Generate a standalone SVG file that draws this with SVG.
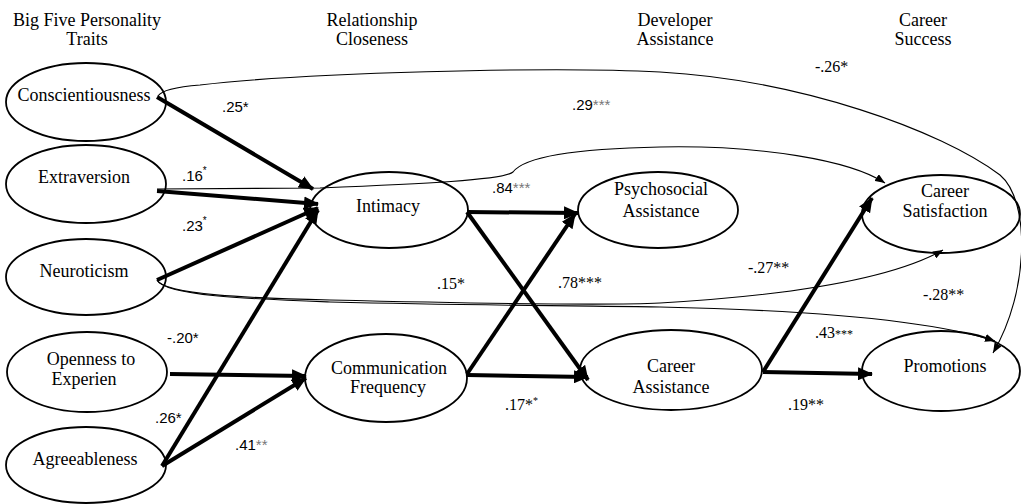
<svg xmlns="http://www.w3.org/2000/svg" width="1021" height="504" viewBox="0 0 1021 504">
<style>
.node ellipse{fill:#fff;stroke:#000;stroke-width:1.8}
.nt{font-family:"Liberation Serif","Times New Roman",serif;font-size:18px;fill:#000;text-anchor:middle}
.hd{font-family:"Liberation Serif","Times New Roman",serif;font-size:18px;fill:#000;text-anchor:middle}
.thick{stroke:#000;stroke-width:4;fill:none;marker-end:url(#ah)}
.thin{stroke:#000;stroke-width:1.1;fill:none;marker-end:url(#sh)}
.ls{font-family:"Liberation Sans",Arial,sans-serif;font-size:15px;fill:#000}
.lr{font-family:"Liberation Serif","Times New Roman",serif;font-size:16px;fill:#000}
.g{fill:#777}
.sup{font-size:10px}
</style>
<defs>
<marker id="ah" markerWidth="15" markerHeight="13" refX="14" refY="6.5" orient="auto" markerUnits="userSpaceOnUse"><path d="M0,0 L15,6.5 L0,13 z" fill="#000"/></marker>
<marker id="sh" markerWidth="10" markerHeight="8" refX="10" refY="4" orient="auto" markerUnits="userSpaceOnUse"><path d="M0,0 L10,4 L0,8 z" fill="#000"/></marker>
</defs>
<rect width="1021" height="504" fill="#fff"/>
<g id="headers">
<text class="hd" x="87" y="26">Big Five Personality</text>
<text class="hd" x="87" y="45">Traits</text>
<text class="hd" x="372" y="26">Relationship</text>
<text class="hd" x="372" y="45">Closeness</text>
<text class="hd" x="675" y="26">Developer</text>
<text class="hd" x="675" y="45">Assistance</text>
<text class="hd" x="923" y="26">Career</text>
<text class="hd" x="923" y="45">Success</text>
</g>
<g id="n-conscientiousness" class="node"><ellipse cx="86" cy="102" rx="80" ry="39"/><text class="nt" x="84" y="101">Conscientiousness</text></g>
<g id="n-extraversion" class="node"><ellipse cx="86" cy="184" rx="80" ry="39"/><text class="nt" x="84" y="183">Extraversion</text></g>
<g id="n-neuroticism" class="node"><ellipse cx="86" cy="277" rx="80" ry="38"/><text class="nt" x="84" y="277">Neuroticism</text></g>
<g id="n-openness" class="node"><ellipse cx="87" cy="372" rx="80" ry="40"/><text class="nt" x="91" y="365">Openness to</text><text class="nt" x="84" y="385">Experien</text></g>
<g id="n-agreeableness" class="node"><ellipse cx="86" cy="465" rx="80" ry="38"/><text class="nt" x="85" y="465">Agreeableness</text></g>
<g id="n-intimacy" class="node"><ellipse cx="389" cy="210" rx="79" ry="38"/><text class="nt" x="388" y="212">Intimacy</text></g>
<g id="n-commfreq" class="node"><ellipse cx="386" cy="378" rx="81" ry="44"/><text class="nt" x="389" y="374">Communication</text><text class="nt" x="388" y="393">Frequency</text></g>
<g id="n-psychosocial" class="node"><ellipse cx="658" cy="210" rx="80" ry="38"/><text class="nt" x="661" y="195">Psychosocial</text><text class="nt" x="661" y="217">Assistance</text></g>
<g id="n-careerassist" class="node"><ellipse cx="671" cy="370" rx="91" ry="40"/><text class="nt" x="671" y="372">Career</text><text class="nt" x="671" y="393">Assistance</text></g>
<g id="n-careersat" class="node"><ellipse cx="941" cy="214" rx="79" ry="39"/><text class="nt" x="945" y="197">Career</text><text class="nt" x="945" y="217">Satisfaction</text></g>
<g id="n-promotions" class="node"><ellipse cx="941" cy="371" rx="79" ry="40"/><text class="nt" x="945" y="372">Promotions</text></g>
<g id="connectors">
<path class="thin" d="M158,96 Q163,88 200,85 C300,73 550,66 660,72 C800,80 940,130 1000,175 C1030,200 1030,290 993,353"/>
<path class="thin" d="M157,189 L320,188 C420,184 505,180 513,172 C522,160 560,149 660,147 C760,145 850,160 885,183"/>
<path class="thin" d="M157,280 C165,295 250,298 330,300 C500,304 620,305 660,303 C780,296 890,280 943,250"/>
<path class="thin" d="M157,280 C165,296 250,299 330,302 C500,306 620,306 660,307 C800,310 930,320 995,341"/>
<line class="thick" x1="157" y1="97" x2="313" y2="189"/>
<line class="thick" x1="157" y1="191" x2="318" y2="204"/>
<line class="thick" x1="157" y1="280" x2="318" y2="208"/>
<line class="thick" x1="162" y1="466" x2="318" y2="210"/>
<line class="thick" x1="170" y1="374" x2="306" y2="376"/>
<line class="thick" x1="162" y1="466" x2="306" y2="378"/>
<line class="thick" x1="467" y1="212" x2="578" y2="213"/>
<line class="thick" x1="467" y1="212" x2="588" y2="380"/>
<line class="thick" x1="467" y1="374" x2="575" y2="214"/>
<line class="thick" x1="467" y1="375" x2="588" y2="377"/>
<line class="thick" x1="763" y1="372" x2="872" y2="198"/>
<line class="thick" x1="763" y1="372" x2="872" y2="374"/>
</g>
<g id="labels">
<text class="ls" x="222" y="112">.25*</text>
<text class="ls" x="182" y="181">.16<tspan class="sup" dy="-7">*</tspan></text>
<text class="ls" x="182" y="231">.23<tspan class="sup" dy="-7">*</tspan></text>
<text class="ls" x="167" y="343">-.20*</text>
<text class="ls" x="155" y="423">.26*</text>
<text class="ls" x="235" y="450">.41<tspan class="g">**</tspan></text>
<text class="ls" x="572" y="110">.29<tspan class="g">***</tspan></text>
<text class="ls" x="492" y="193">.84<tspan class="g">***</tspan></text>
<text class="lr" x="815" y="72">-.26*</text>
<text class="lr" x="437" y="289">.15*</text>
<text class="lr" x="558" y="288">.78***</text>
<text class="lr" x="505" y="410">.17*<tspan class="sup" dy="-6">*</tspan></text>
<text class="lr" x="748" y="273">-.27**</text>
<text class="lr" x="923" y="300">-.28**</text>
<text class="lr" x="815" y="338">.43<tspan font-size="12">***</tspan></text>
<text class="lr" x="788" y="410">.19**</text>
</g>
</svg>
